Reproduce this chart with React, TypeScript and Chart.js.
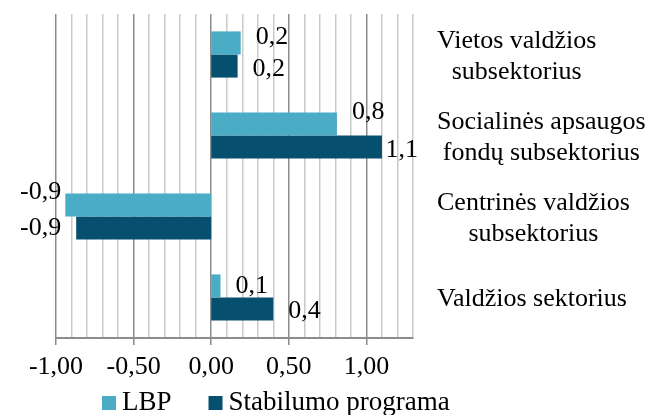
import React, { useEffect, useRef } from "react";
import { Chart, registerables } from "chart.js";

Chart.register(...registerables);

const categories: string[][] = [
  ["Vietos valdžios", "subsektorius"],
  ["Socialinės apsaugos", "fondų subsektorius"],
  ["Centrinės valdžios", "subsektorius"],
  ["Valdžios sektorius"],
];
const seriesNames = ["LBP", "Stabilumo programa"];
const lbpValues = [0.19, 0.81, -0.94, 0.06];
const stabValues = [0.17, 1.1, -0.87, 0.4];
const xMin = -1.0;
const xMax = 1.3;
const xStep = 0.1;

const colors = ["#4BACC6", "#064F6F"];
const FONT = "'Liberation Serif', 'Times New Roman', serif";
const FS = 26;
const LEGEND_FS = 27;
// label vertical nudges (style only)
const valueLabelDy = [
  [-6, -12, -13, 0],
  [3, 3, 0, 2],
];

const fmt1 = (v: number) => v.toFixed(1).replace(".", ",");
const fmt2 = (v: number) => (Math.abs(v) < 1e-9 ? 0 : v).toFixed(2).replace(".", ",");
const isMajor = (v: number) => Math.abs(v * 2 - Math.round(v * 2)) < 1e-6;

const overlay = {
  id: "overlay",
  afterDraw(chart: any) {
    const ctx = chart.ctx;
    const area = chart.chartArea;
    ctx.save();
    ctx.font = `${FS}px ${FONT}`;
    ctx.fillStyle = "#000";
    ctx.textBaseline = "middle";
    // value labels
    chart.data.datasets.forEach((ds: any, di: number) => {
      const meta = chart.getDatasetMeta(di);
      meta.data.forEach((el: any, i: number) => {
        const v = ds.data[i];
        const t = fmt1(v);
        const w = ctx.measureText(t).width;
        let x: number;
        if (v >= 0) {
          x = el.x + 15;
          if (x + w > area.right + 5) x = area.right + 5 - w;
        } else {
          x = el.x - 15 - w;
          if (x < area.left - 36) x = area.left - 36;
        }
        ctx.textAlign = "left";
        ctx.fillText(t, x, el.y + valueLabelDy[di][i]);
      });
    });
    // category labels
    const ys = chart.scales.y;
    const lh = 31;
    categories.forEach((lines, i) => {
      const cy = ys.getPixelForValue(i) + 2;
      const maxW = Math.max(...lines.map((l) => ctx.measureText(l).width));
      const cx = area.right + 24 + maxW / 2;
      ctx.textAlign = "center";
      lines.forEach((l, k) => {
        const y = cy + (k - (lines.length - 1) / 2) * lh;
        ctx.fillText(l, cx, y);
      });
    });
    // legend
    ctx.font = `${LEGEND_FS}px ${FONT}`;
    let lx = area.left + 46;
    const ly = 403;
    seriesNames.forEach((name, i) => {
      ctx.fillStyle = colors[i];
      ctx.fillRect(lx, ly - 7, 14, 14);
      ctx.fillStyle = "#000";
      ctx.textAlign = "left";
      ctx.fillText(name, lx + 20, ly);
      lx += 20 + ctx.measureText(name).width + 37;
    });
    ctx.restore();
  },
};

export default function App() {
  const ref = useRef<HTMLCanvasElement>(null);
  useEffect(() => {
    if (!ref.current) return;
    const chart = new Chart(ref.current, {
      type: "bar",
      data: {
        labels: categories,
        datasets: [
          { label: seriesNames[0], data: lbpValues, backgroundColor: colors[0] },
          { label: seriesNames[1], data: stabValues, backgroundColor: colors[1] },
        ],
      },
      options: {
        indexAxis: "y",
        responsive: false,
        animation: false,
        layout: { padding: { left: 56, top: 14, right: 0, bottom: 0 } },
        datasets: { bar: { barPercentage: 1, categoryPercentage: 0.57 } },
        plugins: { legend: { display: false }, tooltip: { enabled: false } },
        scales: {
          x: {
            type: "linear",
            min: xMin,
            max: xMax,
            afterFit: (s: any) => {
              s.height = 77;
            },
            ticks: {
              stepSize: xStep,
              autoSkip: false,
              maxRotation: 0,
              padding: 7,
              color: "#000",
              font: { family: FONT, size: FS },
              callback: (v: any) => {
                const n = Number(v);
                return isMajor(n) && n <= 1.0 + 1e-9 ? fmt2(n) : "";
              },
            },
            grid: {
              color: (c: any) => (isMajor(c.tick.value) ? "#8c8c8c" : "#c9c9c9"),
              tickColor: (c: any) => (isMajor(c.tick.value) && c.tick.value <= 1.0 + 1e-9 ? "#8c8c8c" : "rgba(0,0,0,0)"),
              tickLength: 7,
              lineWidth: 1.5,
            },
            border: { display: true, color: "#8c8c8c", width: 2 },
          },
          y: {
            type: "category",
            position: "right",
            ticks: { display: false },
            grid: { display: false },
            border: { display: false },
            afterFit: (s: any) => {
              s.width = 241;
            },
          },
        },
      },
      plugins: [overlay],
    } as any);
    return () => chart.destroy();
  }, []);
  return (
    <div style={{ position: "absolute", left: 0, top: 0, width: 654, height: 415, background: "#fff" }}>
      <canvas ref={ref} width={654} height={415} />
    </div>
  );
}
